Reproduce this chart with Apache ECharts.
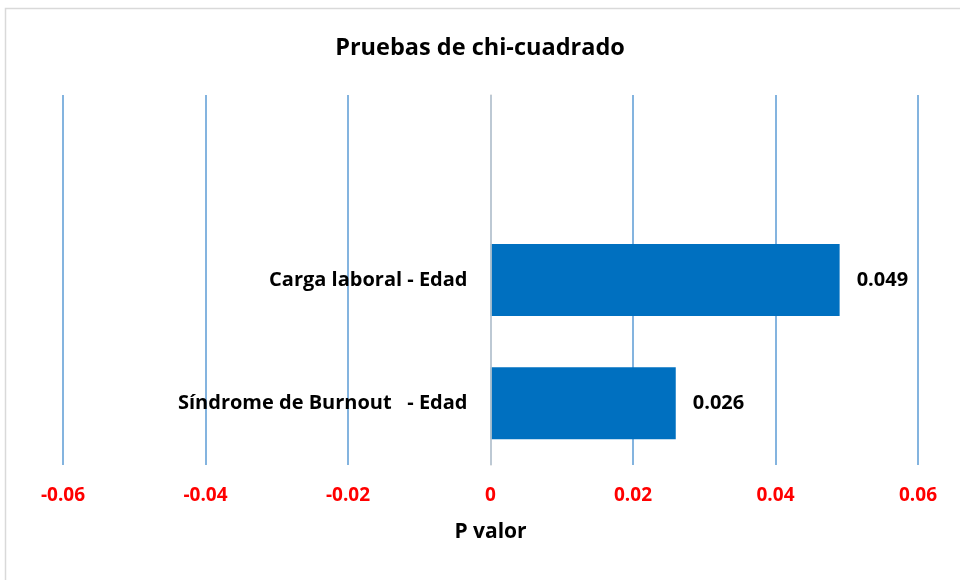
<!DOCTYPE html>
<html>
<head>
<meta charset="utf-8">
<script src="https://cdn.jsdelivr.net/npm/echarts@6/dist/echarts.min.js"></script>
<style>html,body{margin:0;padding:0;background:#fff}#c{width:960px;height:580px}</style>
</head>
<body>
<div id="c"></div>
<script>
const categories = ['Síndrome de Burnout   - Edad', 'Carga laboral - Edad', ''];
const pValues = [0.026, 0.049, null];
const xTicks = { min: -0.06, max: 0.06, interval: 0.02 };
const titleText = 'Pruebas de chi-cuadrado';
const xName = 'P valor';

const FONT = 'Open Sans';
const GRID_LEFT = 63;
const chart = echarts.init(document.getElementById('c'), null, { renderer: 'canvas' });
chart.setOption({
  backgroundColor: '#ffffff',
  animation: false,
  graphic: [{
    type: 'rect', z: -10,
    shape: { x: 5.5, y: 8.5, width: 1000, height: 1000 },
    style: { fill: 'none', stroke: '#d9d9d9', lineWidth: 1.5 }
  }],
  title: {
    text: titleText, left: 'center', top: 31,
    textStyle: { fontFamily: FONT, fontWeight: 'bold', fontSize: 23.5, color: '#000' }
  },
  grid: { left: GRID_LEFT, right: 42, top: 95, bottom: 115, containLabel: false, outerBoundsMode: 'none' },
  xAxis: {
    type: 'value', min: xTicks.min, max: xTicks.max, interval: xTicks.interval,
    name: xName, nameLocation: 'middle', nameGap: 57,
    nameTextStyle: { fontFamily: FONT, fontWeight: 'bold', fontSize: 21, color: '#000' },
    axisLine: { show: false }, axisTick: { show: false },
    splitLine: { show: true, lineStyle: { color: '#5b9bd5', width: 1.5 } },
    axisLabel: {
      margin: 21, color: '#ff0000', fontFamily: FONT, fontWeight: 'bold', fontSize: 19,
      formatter: v => String(Math.round(v * 100) / 100)
    }
  },
  yAxis: {
    type: 'category', data: categories, offset: 0, z: 5,
    axisLine: { show: true, onZero: false, lineStyle: { color: '#d0d0d0', width: 1.5 } },
    axisTick: { show: false },
    splitLine: { show: false },
    axisLabel: { margin: 23, color: '#000', fontFamily: FONT, fontWeight: 'bold', fontSize: 20 }
  },
  series: [{
    type: 'bar', data: pValues, barWidth: 72,
    itemStyle: { color: '#0070c0' },
    label: {
      show: true, position: 'right', distance: 17, color: '#000',
      fontFamily: FONT, fontWeight: 'bold', fontSize: 20,
      formatter: p => p.value.toFixed(3)
    }
  }]
});
// place the category axis on the x = 0 position of the value axis
const zeroX = chart.convertToPixel({ xAxisIndex: 0 }, 0);
chart.setOption({ yAxis: { offset: -(zeroX - GRID_LEFT) } });
</script>
</body>
</html>
